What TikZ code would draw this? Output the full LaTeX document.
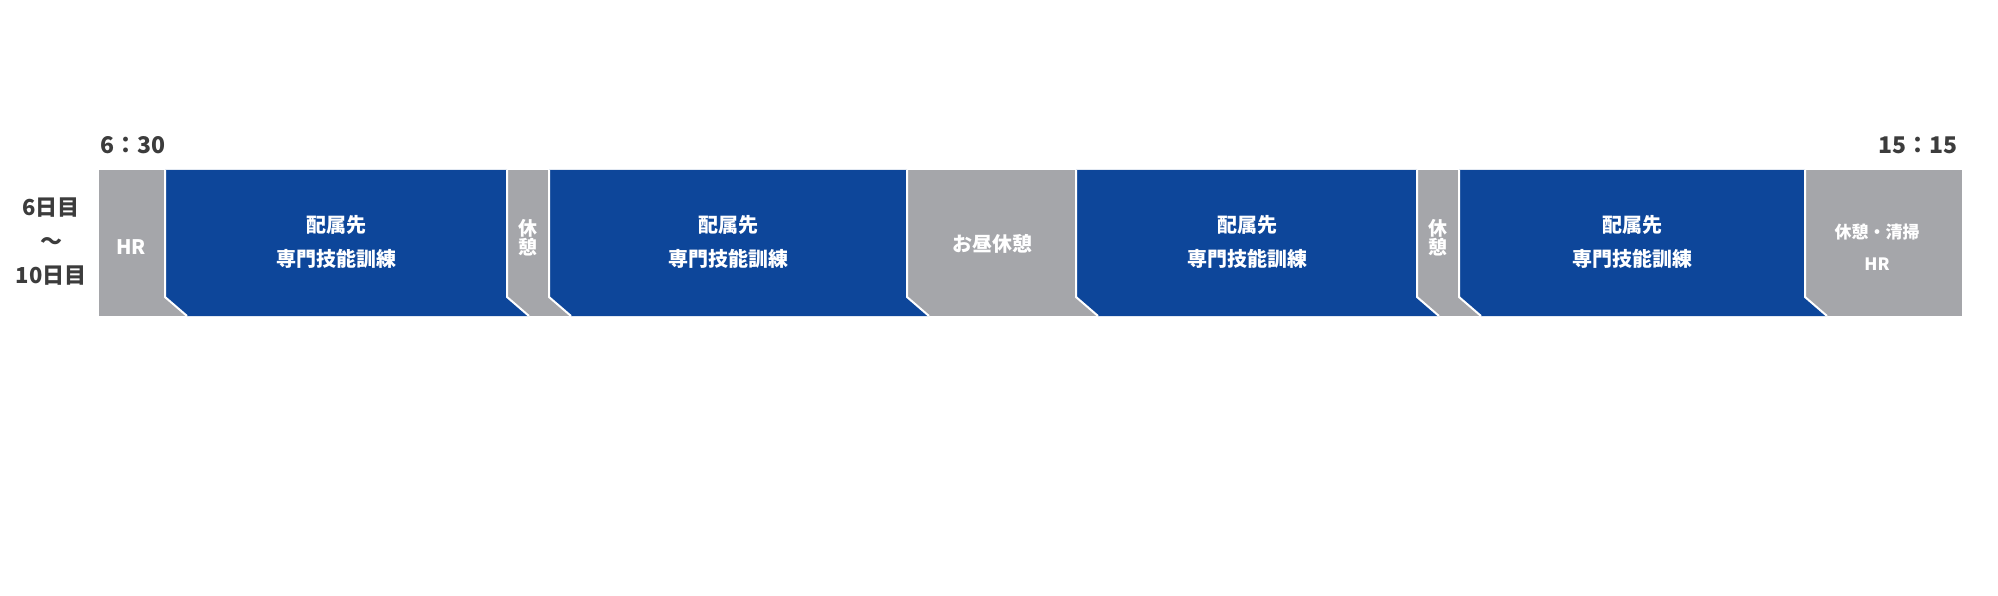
\documentclass[tikz,border=0pt]{standalone}
\usepackage{fontspec}
\setmainfont{Noto Sans CJK JP}
\definecolor{trainblue}{RGB}{13,70,154}
\definecolor{restgray}{RGB}{165,166,170}
\definecolor{textgray}{RGB}{60,60,60}
\begin{document}
\begin{tikzpicture}
[x=1pt, y=-1pt,
  blockdecorate/.style={fill=trainblue},
  sepdecorate/.style={draw=white, line width=2pt},
  labeldecorate/.style={text=white, align=center, inner sep=0pt,
    font=\bfseries\fontsize{20}{34}\selectfont},
  timedecorate/.style={text=textgray, inner sep=0pt,
    font=\bfseries\fontsize{23}{28}\selectfont}]
\useasboundingbox (0,0) rectangle (1998,596);
%% gray strip underneath
\fill[restgray] (99,170) rectangle (1962,316);
%% training blocks
\foreach \xl/\xr in {165/507, 549/907, 1076/1417, 1459/1805}
{
  \fill[blockdecorate] (\xl,170) -- (\xr,170) -- (\xr,297) -- (\xr+22,316)
    -- (\xl+22,316) -- (\xl,297) -- cycle;
}
%% white separators
\foreach \x in {165, 507, 549, 907, 1076, 1417, 1459, 1805}
{
  \draw[sepdecorate] (\x,170) -- (\x,297) -- (\x+22,316);
}
%% labels in the strip
\node (hr) at (131,247) [labeldecorate] {HR};
\foreach \nodename/\x in {traina/336, trainb/728, trainc/1247, traind/1632}
{
  \node (\nodename) at (\x,242) [labeldecorate] {配属先\\専門技能訓練};
}
\foreach \nodename/\x in {resta/528, restb/1438}
{
  \node (\nodename) at (\x,238) [labeldecorate,
    font=\bfseries\fontsize{19}{19}\selectfont] {休\\憩};
}
\node (lunch) at (992,244) [labeldecorate] {お昼休憩};
\node (clean) at (1877,247) [labeldecorate,
  font=\bfseries\fontsize{17}{32}\selectfont] {休憩・清掃\\HR};
%% times and days
\node (start) at (133,145) [timedecorate] {6：30};
\node (finish) at (1918,145) [timedecorate] {15：15};
\node (days) at (51,242) [timedecorate, align=center,
  font=\bfseries\fontsize{22}{34}\selectfont] {6日目\\〜\\10日目};
\end{tikzpicture}
\end{document}
